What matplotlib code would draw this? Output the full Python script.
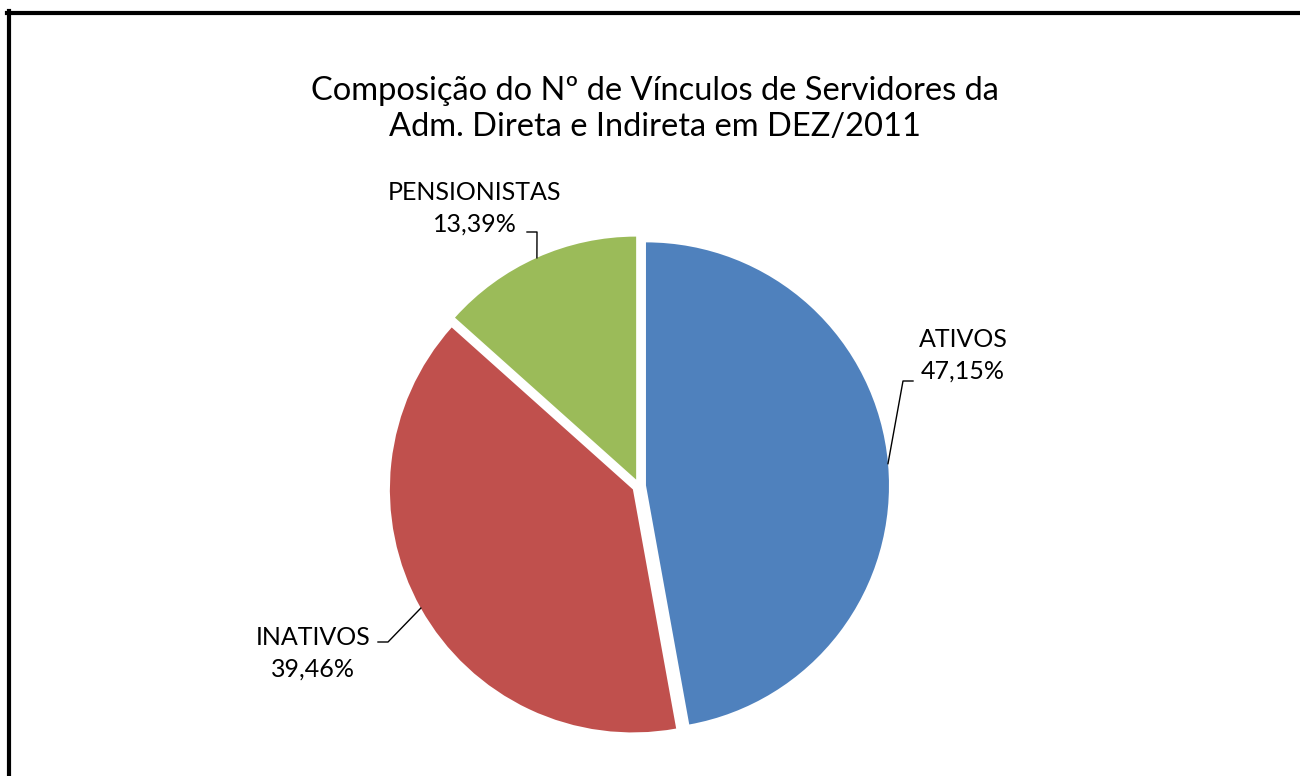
"""Pie chart: composição do nº de vínculos de servidores, DEZ/2011."""

import matplotlib

matplotlib.use("Agg")
import matplotlib.pyplot as plt
import numpy as np
from matplotlib.lines import Line2D

categories = ["ATIVOS", "INATIVOS", "PENSIONISTAS"]
shares = [47.15, 39.46, 13.39]
colors = ["#4F81BD", "#C0504D", "#9BBB59"]
title = "Composição do Nº de Vínculos de Servidores da\nAdm. Direta e Indireta em DEZ/2011"

# label placement (pixel space, y down): text centre, elbow end near text
label_pos = {
    "ATIVOS": (963, 355),
    "INATIVOS": (313, 653),
    "PENSIONISTAS": (475, 208),
}
elbow = {
    "ATIVOS": [(913, 381), (903, 381)],
    "INATIVOS": [(378, 642), (388, 642)],
    "PENSIONISTAS": [(527, 232), (537, 232)],
}

W, H = 1300, 776


def main() -> None:
    plt.rcParams["font.family"] = ["Lato", "DejaVu Sans"]
    fig = plt.figure(figsize=(W / 100, H / 100), dpi=100)
    ax = fig.add_axes([0, 0, 1, 1])

    cx, cy, r, expl = 639, H - 486, 243, 7
    wedges, _ = ax.pie(shares, colors=colors, startangle=90, counterclock=False,
                       radius=r, center=(cx, cy), explode=[expl] * len(shares),
                       wedgeprops=dict(linewidth=0), frame=True)
    ax.set_xlim(0, W)
    ax.set_ylim(0, H)
    ax.set_aspect("equal")
    ax.axis("off")

    for w, name, val in zip(wedges, categories, shares):
        mid = np.deg2rad((w.theta1 + w.theta2) / 2)
        wx, wy = w.center
        px, py = wx + r * np.cos(mid), wy + r * np.sin(mid)
        (e1x, e1y), (e2x, e2y) = elbow[name]
        ax.plot([e1x, e2x, px], [H - e1y, H - e2y, py], color="black", lw=1)
        tx, ty = label_pos[name]
        ax.text(tx, H - ty, f"{name}\n{val:.2f}%".replace(".", ","),
                ha="center", va="center", fontsize=18, linespacing=1.45)

    ax.text(655, H - 109, title, ha="center", va="center", fontsize=23.5,
            linespacing=1.25)

    # chart area border (top and left visible)
    fig.add_artist(Line2D([7 / W, 1], [1 - 13 / H, 1 - 13 / H], color="black",
                          lw=3, transform=fig.transFigure))
    fig.add_artist(Line2D([8.5 / W, 8.5 / W], [1 - 11 / H, 0], color="black",
                          lw=3, transform=fig.transFigure))

    fig.savefig("out.png", dpi=100)


if __name__ == "__main__":
    main()
